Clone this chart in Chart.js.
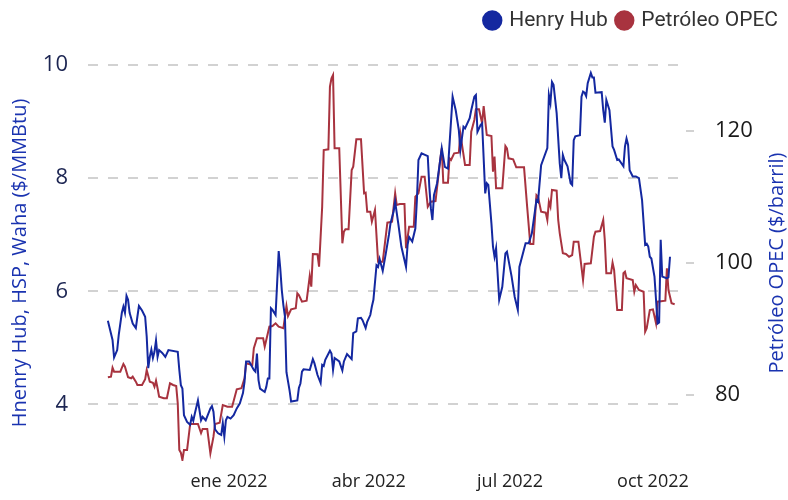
<!DOCTYPE html>
<html><head><meta charset="utf-8">
<script src="https://cdn.jsdelivr.net/npm/chart.js@4/dist/chart.umd.min.js"></script>
<style>html,body{margin:0;padding:0;background:#fff;}#wrap{width:788px;height:500px;position:relative;}</style>
</head><body><div id="wrap"><canvas id="c"></canvas></div>
<script>
// ---- data ----
const hhDates = ['2021-10-15','2021-10-18','2021-10-19','2021-10-21','2021-10-22','2021-10-24','2021-10-25','2021-10-26','2021-10-27','2021-10-28','2021-10-29','2021-10-31',
'2021-11-02','2021-11-03','2021-11-04','2021-11-06','2021-11-08','2021-11-09','2021-11-10','2021-11-11','2021-11-12','2021-11-13','2021-11-14','2021-11-15','2021-11-16','2021-11-17','2021-11-19','2021-11-21','2021-11-23','2021-11-29','2021-11-30',
'2021-12-01','2021-12-02','2021-12-03','2021-12-05','2021-12-07','2021-12-08','2021-12-09','2021-12-10','2021-12-12','2021-12-14','2021-12-15','2021-12-17','2021-12-20','2021-12-21','2021-12-22','2021-12-23','2021-12-25','2021-12-27','2021-12-28','2021-12-29','2021-12-30','2021-12-31',
'2022-01-02','2022-01-04','2022-01-06','2022-01-08','2022-01-10','2022-01-11','2022-01-12','2022-01-14','2022-01-17','2022-01-18','2022-01-19','2022-01-20','2022-01-21','2022-01-24','2022-01-25','2022-01-26','2022-01-27','2022-01-28','2022-01-29','2022-01-31',
'2022-02-02','2022-02-03','2022-02-04','2022-02-05','2022-02-06','2022-02-07','2022-02-09','2022-02-10','2022-02-14','2022-02-15','2022-02-16','2022-02-17','2022-02-18','2022-02-22','2022-02-24','2022-02-25','2022-02-27',
'2022-03-01','2022-03-02','2022-03-03','2022-03-04','2022-03-07','2022-03-08','2022-03-09','2022-03-10','2022-03-13','2022-03-15','2022-03-16','2022-03-18','2022-03-21','2022-03-22','2022-03-24','2022-03-25','2022-03-27','2022-03-28','2022-03-30','2022-03-31',
'2022-04-02','2022-04-03','2022-04-04','2022-04-06','2022-04-07','2022-04-08','2022-04-10','2022-04-12','2022-04-14','2022-04-15','2022-04-17','2022-04-18','2022-04-20','2022-04-22','2022-04-25','2022-04-26','2022-04-27','2022-04-29',
'2022-05-01','2022-05-02','2022-05-03','2022-05-05','2022-05-09','2022-05-10','2022-05-11','2022-05-12','2022-05-13','2022-05-15','2022-05-17','2022-05-18','2022-05-20','2022-05-22','2022-05-25','2022-05-27','2022-05-29','2022-05-30',
'2022-06-01','2022-06-02','2022-06-05','2022-06-06','2022-06-08','2022-06-09','2022-06-10','2022-06-12','2022-06-13','2022-06-15','2022-06-16','2022-06-17','2022-06-19','2022-06-20','2022-06-21','2022-06-22','2022-06-24','2022-06-26','2022-06-28','2022-06-29',
'2022-07-02','2022-07-04','2022-07-06','2022-07-07','2022-07-11','2022-07-13','2022-07-15','2022-07-18','2022-07-19','2022-07-21','2022-07-25','2022-07-26','2022-07-27','2022-07-28','2022-07-29','2022-07-31',
'2022-08-02','2022-08-03','2022-08-04','2022-08-05','2022-08-07','2022-08-09','2022-08-10','2022-08-11','2022-08-12','2022-08-15','2022-08-16','2022-08-17','2022-08-18','2022-08-19','2022-08-20','2022-08-22','2022-08-23','2022-08-24','2022-08-25','2022-08-29','2022-08-30','2022-08-31',
'2022-09-01','2022-09-03','2022-09-05','2022-09-06','2022-09-08','2022-09-09','2022-09-11','2022-09-12','2022-09-13','2022-09-14','2022-09-15','2022-09-16','2022-09-18','2022-09-20','2022-09-22','2022-09-24','2022-09-26','2022-09-27','2022-09-28','2022-09-29','2022-09-30',
'2022-10-02','2022-10-03','2022-10-04','2022-10-05','2022-10-06','2022-10-07','2022-10-10','2022-10-11','2022-10-12'];
const hhValues = [5.48,5.14,4.83,4.96,5.23,5.62,5.73,5.62,5.92,5.85,5.62,5.43,
5.35,5.55,5.74,5.66,5.55,5.20,4.64,4.84,4.97,4.82,4.93,5.13,4.84,4.96,4.91,4.84,4.96,4.93,4.61,
4.34,4.28,3.81,3.69,3.64,3.78,3.71,3.84,4.07,3.72,3.78,3.72,3.93,3.97,3.87,3.56,3.49,3.46,3.67,3.43,3.72,3.78,
3.75,3.81,3.93,4.02,4.20,4.40,4.76,4.76,4.61,4.58,4.90,4.43,4.28,4.22,4.31,4.46,4.46,5.70,5.67,5.58,
6.71,6.41,6.02,5.76,5.56,4.57,4.25,4.05,4.07,4.29,4.37,4.58,4.62,4.61,4.80,4.73,4.52,
4.38,4.70,4.68,4.79,4.95,4.90,4.61,4.82,4.76,4.60,4.76,4.89,4.80,5.26,5.29,5.52,5.53,5.49,5.35,5.46,
5.58,5.73,5.85,6.46,6.43,6.57,6.36,6.67,7.00,7.20,7.41,7.58,7.20,6.79,6.43,6.82,6.96,6.88,
7.11,7.61,8.32,8.44,8.39,7.85,7.47,7.26,7.70,7.91,8.32,8.53,8.20,8.17,9.44,9.20,8.85,8.50,
8.91,8.88,9.06,9.20,9.44,9.47,8.82,8.94,8.97,7.73,7.91,7.88,7.20,6.79,6.61,6.76,5.85,6.08,6.67,6.70,
6.26,5.90,5.67,6.43,6.85,6.85,7.02,7.61,7.58,8.23,8.53,9.47,9.33,9.70,9.65,9.15,
8.26,8.00,8.41,8.32,8.21,7.91,7.88,8.67,8.74,8.76,9.44,9.53,9.51,9.45,9.68,9.86,9.78,9.78,9.51,9.52,9.20,8.98,
9.38,9.20,8.56,8.50,8.32,8.33,8.25,8.21,8.56,8.70,8.59,8.14,8.03,8.03,8.00,7.61,6.82,6.84,6.79,6.61,6.58,
6.26,5.85,5.43,5.45,6.91,6.26,6.23,6.25,6.61];

const opecDates = ['2021-10-15','2021-10-17','2021-10-18','2021-10-19','2021-10-23','2021-10-25','2021-10-26','2021-10-28','2021-10-30','2021-10-31',
'2021-11-02','2021-11-03','2021-11-06','2021-11-08','2021-11-09','2021-11-11','2021-11-13','2021-11-14','2021-11-15','2021-11-16','2021-11-17','2021-11-20','2021-11-22','2021-11-24','2021-11-26','2021-11-28','2021-11-29','2021-11-30',
'2021-12-01','2021-12-02','2021-12-03','2021-12-05','2021-12-07','2021-12-12','2021-12-14','2021-12-15','2021-12-18','2021-12-20','2021-12-22','2021-12-23','2021-12-26','2021-12-28','2021-12-31',
'2022-01-03','2022-01-06','2022-01-09','2022-01-11','2022-01-12','2022-01-16','2022-01-17','2022-01-19','2022-01-23','2022-01-24','2022-01-27','2022-01-29','2022-01-31',
'2022-02-02','2022-02-05','2022-02-07','2022-02-08','2022-02-10','2022-02-13','2022-02-14','2022-02-15','2022-02-17','2022-02-20','2022-02-22','2022-02-23','2022-02-24','2022-02-27','2022-02-28',
'2022-03-02','2022-03-03','2022-03-06','2022-03-07','2022-03-08','2022-03-09','2022-03-10','2022-03-13','2022-03-15','2022-03-16','2022-03-17','2022-03-19','2022-03-21','2022-03-22','2022-03-24','2022-03-27','2022-03-29','2022-03-30','2022-03-31',
'2022-04-02','2022-04-03','2022-04-05','2022-04-07','2022-04-10','2022-04-13','2022-04-16','2022-04-18','2022-04-19','2022-04-21','2022-04-24','2022-04-25','2022-04-27','2022-04-30',
'2022-05-01','2022-05-03','2022-05-05','2022-05-07','2022-05-09','2022-05-11','2022-05-14','2022-05-17','2022-05-18','2022-05-19','2022-05-22','2022-05-23','2022-05-24','2022-05-26','2022-05-29','2022-05-30',
'2022-06-02','2022-06-05','2022-06-06','2022-06-08','2022-06-09','2022-06-11','2022-06-13','2022-06-14','2022-06-16','2022-06-19','2022-06-20','2022-06-21','2022-06-22','2022-06-26','2022-06-28','2022-06-29','2022-06-30',
'2022-07-03','2022-07-05','2022-07-10','2022-07-12','2022-07-14','2022-07-16','2022-07-18','2022-07-19','2022-07-21','2022-07-24','2022-07-25','2022-07-26','2022-07-27','2022-07-28','2022-07-31',
'2022-08-01','2022-08-02','2022-08-04','2022-08-06','2022-08-08','2022-08-10','2022-08-11','2022-08-14','2022-08-17','2022-08-18','2022-08-22','2022-08-24','2022-08-25','2022-08-28','2022-08-30','2022-08-31',
'2022-09-01','2022-09-04','2022-09-05','2022-09-06','2022-09-08','2022-09-11','2022-09-12','2022-09-13','2022-09-14','2022-09-18','2022-09-19','2022-09-20','2022-09-22','2022-09-25','2022-09-26','2022-09-27','2022-09-29',
'2022-10-01','2022-10-03','2022-10-04','2022-10-09','2022-10-10','2022-10-11','2022-10-13','2022-10-15'];
const opecValues = [82.68,82.77,84.14,83.53,83.53,84.70,84.29,82.68,82.53,82.77,
82.02,81.52,81.52,82.38,83.79,82.02,81.86,81.26,82.17,81.02,79.74,79.50,79.50,81.77,81.52,81.36,78.74,71.67,
71.26,70.15,71.67,71.67,75.61,75.61,74.24,74.85,74.85,71.17,73.68,75.61,75.80,78.48,78.23,
78.23,80.86,81.02,82.53,84.80,84.55,87.08,88.59,88.59,87.32,90.35,90.45,90.86,
90.35,90.11,93.48,91.97,92.98,93.14,95.41,95.15,94.14,94.29,98.03,96.41,101.36,101.32,99.44,
108.53,117.12,117.23,126.71,127.98,128.48,117.38,117.38,102.98,104.74,105.11,105.11,114.09,114.59,118.74,118.74,110.56,110.65,107.77,
107.77,106.26,108.03,100.20,100.20,106.11,106.26,110.56,108.79,108.94,108.94,102.23,105.50,105.50,
110.05,110.56,113.08,113.08,108.53,109.29,109.39,115.61,117.38,112.17,112.17,115.86,115.61,116.62,116.71,119.55,
114.85,114.85,119.89,121.67,123.29,123.29,121.17,123.79,119.39,119.24,113.83,116.11,111.32,111.32,117.73,117.38,115.86,
115.71,114.50,114.50,108.53,102.88,102.88,110.30,110.05,107.77,107.62,106.52,109.29,108.53,111.06,110.95,
106.52,104.50,101.47,101.36,100.95,101.21,103.23,103.23,97.42,99.85,99.95,103.98,104.74,104.85,106.52,103.48,
98.44,98.44,100.05,98.94,92.88,92.88,98.44,98.68,97.68,97.42,95.65,96.67,95.91,95.65,89.59,90.11,92.88,
92.98,90.86,94.14,94.29,99.20,95.91,93.89,93.74];

const seriesNames = ['Henry Hub', 'Petróleo OPEC'];
const xTickDates = ['2022-01-01','2022-04-01','2022-07-01','2022-10-01'];
const xTickLabels = ['ene 2022','abr 2022','jul 2022','oct 2022'];
const leftTicks = [4, 6, 8, 10];
const rightTicks = [80, 100, 120];
const leftTitle = 'Hnenry Hub, HSP, Waha ($/MMBtu)';
const rightTitle = 'Petróleo OPEC ($/barril)';

// ---- helpers ----
const BASE = Date.UTC(2022, 0, 1);
const toDay = s => { const [y, m, d] = s.split('-').map(Number); return (Date.UTC(y, m - 1, d) - BASE) / 864e5; };
const BLUE = '#1428a0', RED = '#a8333f', TITLE_BLUE = '#1a33b0';
const FONT = '"Open Sans", "Noto Sans", sans-serif';

const legendSpacer = {
  id: 'legendSpacer',
  beforeInit(chart) {
    const fit = chart.legend.fit;
    chart.legend.fit = function () { fit.call(this); this.height += 24; };
  }
};
const rightTitlePlugin = {
  id: 'rightTitlePlugin',
  afterDraw(chart) {
    const s = chart.scales.y2, ctx = chart.ctx;
    ctx.save();
    ctx.translate(s.right - 11, (s.top + s.bottom) / 2);
    ctx.rotate(-Math.PI / 2);
    ctx.font = '20px ' + FONT;
    ctx.fillStyle = TITLE_BLUE;
    ctx.textAlign = 'center';
    ctx.textBaseline = 'middle';
    ctx.fillText(rightTitle, 0, 0);
    ctx.restore();
  }
};

new Chart(document.getElementById('c'), {
  type: 'line',
  data: {
    datasets: [
      { label: seriesNames[0], data: hhDates.map((d, i) => ({ x: toDay(d), y: hhValues[i] })),
        yAxisID: 'y', borderColor: BLUE, backgroundColor: BLUE, borderWidth: 2, pointRadius: 0, pointStyle: 'circle', tension: 0 },
      { label: seriesNames[1], data: opecDates.map((d, i) => ({ x: toDay(d), y: opecValues[i] })),
        yAxisID: 'y2', borderColor: RED, backgroundColor: RED, borderWidth: 2, pointRadius: 0, pointStyle: 'circle', tension: 0 }
    ]
  },
  options: {
    responsive: true, maintainAspectRatio: false, animation: false, devicePixelRatio: 1,
    layout: { padding: 0 },
    plugins: {
      tooltip: { enabled: false },
      legend: {
        position: 'top', align: 'end',
        labels: { usePointStyle: true, boxWidth: 13, boxHeight: 13, padding: 10, color: '#333',
          font: { family: 'Roboto, sans-serif', size: 21 } }
      }
    },
    scales: {
      x: {
        type: 'linear', min: -90.8, max: 294.3,
        grid: { display: false, drawTicks: false }, border: { display: false },
        afterBuildTicks: s => { s.ticks = xTickDates.map(d => ({ value: toDay(d) })); },
        afterFit: s => { s.height = 39; },
        ticks: { autoSkip: false, maxRotation: 0, padding: 10, color: '#222',
          font: { family: FONT, size: 18 }, callback: (v, i) => xTickLabels[i] }
      },
      y: {
        position: 'left', min: 3, max: 10,
        afterBuildTicks: s => { s.ticks = leftTicks.map(v => ({ value: v })); },
        afterFit: s => { s.width = 88; },
        grid: { color: '#d2d2d2', lineWidth: 2, drawTicks: false, tickBorderDash: [10, 10] },
        border: { display: false, dash: [10, 10] },
        ticks: { padding: 20, color: '#1c2552', font: { family: FONT, size: 22 } },
        title: { display: true, text: leftTitle, color: TITLE_BLUE, padding: { top: 8, bottom: 0 },
          font: { family: FONT, size: 20 } }
      },
      y2: {
        position: 'right', min: 70, max: 130,
        afterBuildTicks: s => { s.ticks = rightTicks.map(v => ({ value: v })); },
        afterFit: s => { s.width = 102; },
        grid: { drawOnChartArea: false, drawTicks: true, tickLength: 8, color: '#d2d2d2', lineWidth: 2 },
        border: { display: false },
        ticks: { padding: 21, color: '#1a1a1a', font: { family: FONT, size: 22 } }
      }
    }
  },
  plugins: [legendSpacer, rightTitlePlugin]
});
</script></body></html>
